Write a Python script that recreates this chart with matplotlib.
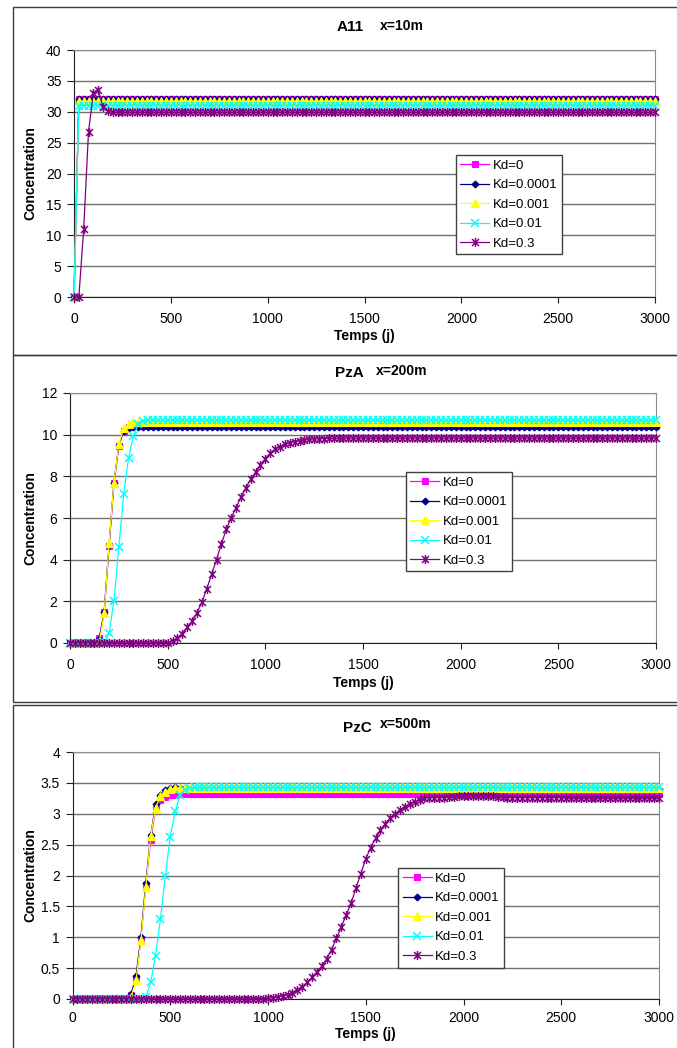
import numpy as np
import matplotlib
matplotlib.use("Agg")
import matplotlib.pyplot as plt
from matplotlib.path import Path
from matplotlib.patches import Rectangle

plt.rcParams['font.family'] = ['Liberation Sans', 'DejaVu Sans']

# time axis (days), one sample every 25 days
days = np.arange(0, 3001, 25)

labels = ["Kd=0", "Kd=0.0001", "Kd=0.001", "Kd=0.01", "Kd=0.3"]

# ---- A11, x=10m
a11_kd0 = [0.0] + [32.1] * 120
a11_kd1 = [0.0] + [32.1] * 120
a11_kd2 = [0.0] + [31.7] * 120
a11_kd3 = [0.0] + [31.0] * 120
a11_kd4 = [0.0, 0.0, 11.0, 26.8, 33.0, 33.5, 30.8, 30.1] + [29.9] * 113

# ---- PzA, x=200m
pza_kd0 = [0.0] * 6 + [0.22, 1.5, 4.66, 7.66, 9.47, 10.2, 10.38] + [10.4] * 108
pza_kd1 = [0.0] * 6 + [0.2, 1.5, 4.7, 7.7, 9.5, 10.2, 10.33] + [10.35] * 108
pza_kd2 = [0.0] * 6 + [0.05, 1.42, 4.78, 7.7, 9.55, 10.3, 10.5] + [10.6] * 108
pza_kd3 = [0.0] * 7 + [0.05, 0.46, 2.03, 4.6, 7.15, 8.9, 9.94, 10.5, 10.65] + [10.7] * 105
pza_kd4 = ([0.0] * 19 + [0.01] +
           [0.02, 0.1, 0.25, 0.45, 0.75, 1.05, 1.45, 1.95, 2.6, 3.3,
            4.0, 4.75, 5.45, 6.0, 6.5, 7.0, 7.45, 7.85, 8.2, 8.55,
            8.85, 9.1, 9.3, 9.43, 9.53, 9.6, 9.66, 9.7, 9.74, 9.77,
            9.79, 9.8, 9.81, 9.82] +
           [9.83] * 67)

# ---- PzC, x=500m
pzc_kd0 = [0.0] * 12 + [0.07, 0.34, 0.97, 1.85, 2.58, 3.08, 3.22, 3.27, 3.3, 3.31] + [3.32] * 99
pzc_kd1 = [0.0] * 12 + [0.08, 0.37, 1.0, 1.88, 2.65, 3.15, 3.3, 3.38, 3.42, 3.44, 3.42, 3.41] + [3.4] * 97
pzc_kd2 = [0.0] * 12 + [0.04, 0.3, 0.95, 1.82, 2.64, 3.1, 3.28, 3.36, 3.4, 3.41] + [3.41] * 99
pzc_kd3 = [0.0] * 15 + [0.03, 0.27, 0.7, 1.3, 2.0, 2.63, 3.04, 3.3, 3.39, 3.42] + [3.43] * 96
pzc_kd4 = ([0.0] * 38 + [0.005, 0.008] +
           [0.01, 0.02, 0.03, 0.05, 0.07, 0.1, 0.14, 0.2, 0.27, 0.35,
            0.44, 0.53, 0.65, 0.8, 0.98, 1.17, 1.36, 1.55, 1.8, 2.03,
            2.27, 2.45, 2.6, 2.73, 2.84, 2.93, 3.0, 3.06, 3.11, 3.16,
            3.19, 3.22, 3.25, 3.26, 3.26, 3.26, 3.26, 3.27, 3.27, 3.28,
            3.28, 3.29, 3.29, 3.29, 3.29, 3.28, 3.28, 3.27, 3.27] +
           [3.26] * 12 + [3.25] * 20)

star = Path([(-1, -1), (1, 1), (-1, 1), (1, -1), (0, -1.3), (0, 1.3)],
            [Path.MOVETO, Path.LINETO, Path.MOVETO, Path.LINETO, Path.MOVETO, Path.LINETO])

styles = [
    dict(color='#FF00FF', marker='s', ms=5, mew=0.8),
    dict(color='#000080', marker='D', ms=3.5, mew=0.8),
    dict(color='#FFFF00', marker='^', ms=6, mew=0.8),
    dict(color='#00FFFF', marker='x', ms=5.5, mew=1.1),
    dict(color='#800080', marker=star, ms=6.5, mew=1.1),
]

W, H = 677, 1048
fig = plt.figure(figsize=(W / 100, H / 100), dpi=100)


def fx(px):
    return px / W


def fy(py):
    return 1 - py / H


# outer chart frames
for top, bot in [(7, 355), (355, 702), (705, 1060)]:
    fig.patches.append(Rectangle((fx(13), fy(bot)), fx(700) - fx(13), fy(top) - fy(bot),
                                 transform=fig.transFigure, fill=False,
                                 edgecolor='#3c3c3c', lw=1.0))

panels = [
    dict(box=(74, 655, 50, 297), ylim=40, ystep=5, data=[a11_kd0, a11_kd1, a11_kd2, a11_kd3, a11_kd4],
         t1=("A11", 350, 27), t2=("x=10m", 402, 26), leg=(0.657, 0.575), xl=336, yl=30, xpad=7),
    dict(box=(70, 656, 393, 643), ylim=12, ystep=2, data=[pza_kd0, pza_kd1, pza_kd2, pza_kd3, pza_kd4],
         t1=("PzA", 349, 373), t2=("x=200m", 402, 371), leg=(0.573, 0.684), xl=683, yl=30, xpad=7),
    dict(box=(72.5, 659, 752, 999), ylim=4, ystep=0.5, data=[pzc_kd0, pzc_kd1, pzc_kd2, pzc_kd3, pzc_kd4],
         t1=("PzC", 357, 728), t2=("x=500m", 406, 724), leg=(0.555, 0.530), xl=1034, yl=30, xpad=5),
]

for p in panels:
    l, r, t, b = p['box']
    ax = fig.add_axes([fx(l), fy(b), fx(r) - fx(l), fy(t) - fy(b)])
    for vals, lab, st in zip(p['data'], labels, styles):
        ax.plot(days, vals, label=lab, lw=0.9, clip_on=False,
                color=st['color'], marker=st['marker'], ms=st['ms'], mew=st['mew'],
                mfc=st['color'], mec=st['color'], zorder=3)
    ax.set_xlim(0, 3000)
    ax.set_ylim(0, p['ylim'])
    ax.set_xticks(np.arange(0, 3001, 500))
    yt = np.arange(0, p['ylim'] + 1e-9, p['ystep'])
    ax.set_yticks(yt)
    ax.set_yticklabels(["{:g}".format(v) for v in yt])
    ax.grid(axis='y', color='#707070', lw=1.0)
    ax.set_axisbelow(True)
    for s in ['top', 'right']:
        ax.spines[s].set_color('#8c8c8c')
    for s in ['left', 'bottom']:
        ax.spines[s].set_color('#202020')
    ax.tick_params(axis='x', direction='out', length=4, pad=p['xpad'], labelsize=10, color='#202020')
    ax.tick_params(axis='y', direction='out', length=5, pad=4, labelsize=10, color='#202020')
    leg = ax.legend(loc='upper left', bbox_to_anchor=p['leg'], fontsize=9.5, frameon=True,
                    fancybox=False, framealpha=1, edgecolor='#404040', handlelength=2.2,
                    handletextpad=0.25, borderpad=0.35, labelspacing=0.55, borderaxespad=0)
    leg.get_frame().set_linewidth(1.0)
    leg.set_zorder(5)

    fig.text(fx(p['t1'][1]), fy(p['t1'][2]), p['t1'][0], ha='center', va='center',
             fontsize=11, fontweight='bold')
    fig.text(fx(p['t2'][1]), fy(p['t2'][2]), p['t2'][0], ha='center', va='center',
             fontsize=10, fontweight='bold', family=['Liberation Sans Narrow', 'Liberation Sans'])
    fig.text(fx((l + r) / 2), fy(p['xl']), "Temps (j)", ha='center', va='center',
             fontsize=10, fontweight='bold')
    fig.text(fx(p['yl']), fy((t + b) / 2), "Concentration", ha='center', va='center',
             rotation=90, fontsize=10, fontweight='bold')

fig.savefig("out.png", dpi=100)
